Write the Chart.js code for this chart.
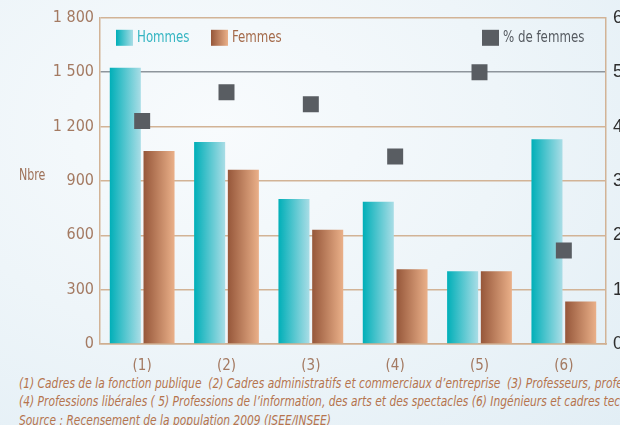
<!DOCTYPE html>
<html>
<head>
<meta charset="utf-8">
<script src="https://cdn.jsdelivr.net/npm/chart.js@4"></script>
<style>
  html, body { margin: 0; padding: 0; }
  body {
    width: 620px; height: 425px; overflow: hidden; position: relative;
    background: radial-gradient(ellipse at 35% 30%, #f8fbfd 0%, #eef5f9 50%, #e2eef5 100%);
    font-family: "DejaVu Sans Condensed", sans-serif;
  }
  #wrap { position: absolute; left: 0; top: 0; width: 650px; height: 372px; }
  #nbre { position: absolute; left: 19px; top: 166px; font-size: 15px; color: #9f735b; transform-origin: left top; transform: scaleX(0.82); }
  .note {
    position: absolute; left: 19px; white-space: nowrap; font-style: italic;
    font-size: 14px; color: #b5744e; transform-origin: left top; transform: scaleX(0.85);
  }
</style>
</head>
<body>
<div id="wrap"><canvas id="chart"></canvas></div>
<div id="nbre">Nbre</div>
<div class="note" style="top:375px">(1) Cadres de la fonction publique&nbsp; (2) Cadres administratifs et commerciaux d’entreprise&nbsp; (3) Professeurs, professions scientifiques</div>
<div class="note" style="top:393px">(4) Professions libérales ( 5) Professions de l’information, des arts et des spectacles (6) Ingénieurs et cadres techniques d’entreprise</div>
<div class="note" style="top:412px">Source : Recensement de la population 2009 (ISEE/INSEE)</div>
<script>
const categories = ["(1)", "(2)", "(3)", "(4)", "(5)", "(6)"];
const hommes = [1525, 1115, 800, 785, 402, 1130];
const femmes = [1065, 962, 630, 413, 402, 234];
const pctFemmes = [41, 46.3, 44.1, 34.5, 50, 17.2];

const brown = "#a47a62";
const condensed = "'DejaVu Sans Condensed', sans-serif";

// dégradé horizontal sur chaque barre
const barGradient = {
  id: "barGradient",
  beforeDatasetsDraw(chart) {
    const ctx = chart.ctx;
    const stops = [["#00afb8", "#a9dde6"], ["#96573a", "#eab089"]];
    [0, 1].forEach(function(d) {
      chart.getDatasetMeta(d).data.forEach(function(bar) {
        const x0 = bar.x - bar.width / 2;
        const g = ctx.createLinearGradient(x0, 0, x0 + bar.width, 0);
        g.addColorStop(0, stops[d][0]);
        g.addColorStop(1, stops[d][1]);
        bar.options = Object.assign({}, bar.options, { backgroundColor: g });
      });
    });
  }
};

// légende dans la zone du graphique
const innerLegend = {
  id: "innerLegend",
  afterDraw(chart) {
    const ctx = chart.ctx;
    const a = chart.chartArea;
    ctx.save();
    ctx.font = "16px " + condensed;
    ctx.textBaseline = "middle";
    function swatch(x, c1, c2, label, color) {
      const g = ctx.createLinearGradient(x, 0, x + 17, 0);
      g.addColorStop(0, c1);
      g.addColorStop(1, c2);
      ctx.fillStyle = g;
      ctx.fillRect(x, a.top + 12, 17, 16);
      ctx.fillStyle = color;
      ctx.save();
      ctx.translate(x + 21, a.top + 20);
      ctx.scale(0.82, 1);
      ctx.fillText(label, 0, 0);
      ctx.restore();
    }
    swatch(a.left + 16, "#00afb8", "#a9dde6", "Hommes", "#35b5c2");
    swatch(a.left + 111, "#96573a", "#eab089", "Femmes", "#a46a4a");
    swatch(a.left + 382, "#595d62", "#595d62", "% de femmes", "#555a60");
    ctx.restore();
  }
};

new Chart(document.getElementById("chart"), {
  data: {
    labels: categories,
    datasets: [{
      type: "bar",
      label: "Hommes",
      data: hommes,
      yAxisID: "y",
      order: 2,
      categoryPercentage: 0.8,
      barPercentage: 0.92,
      backgroundColor: "#3cbcc6"
    }, {
      type: "bar",
      label: "Femmes",
      data: femmes,
      yAxisID: "y",
      order: 2,
      categoryPercentage: 0.8,
      barPercentage: 0.92,
      backgroundColor: "#c08660"
    }, {
      type: "line",
      label: "% de femmes",
      data: pctFemmes,
      yAxisID: "y1",
      order: 0,
      showLine: false,
      pointStyle: "rect",
      pointRadius: 11.3,
      pointBorderWidth: 0,
      pointBackgroundColor: "#595d62"
    }]
  },
  options: {
    responsive: true,
    maintainAspectRatio: false,
    animation: false,
    layout: { padding: { top: 13, left: 0, right: 0, bottom: 0 } },
    plugins: {
      legend: { display: false },
      tooltip: { enabled: false }
    },
    scales: {
      x: {
        grid: { display: false },
        border: { color: "#cfae90", width: 1.5 },
        ticks: {
          color: brown,
          padding: 5,
          font: { family: condensed, size: 15 }
        },
        afterFit: function(s) { s.height = 28; }
      },
      y: {
        position: "left",
        min: 0,
        max: 1800,
        ticks: {
          stepSize: 300,
          color: brown,
          padding: 6,
          font: { family: condensed, size: 16 },
          callback: function(v) { return v >= 1000 ? Math.floor(v / 1000) + " " + String(v % 1000).padStart(3, "0") : v; }
        },
        grid: {
          drawTicks: false,
          lineWidth: 1.5,
          color: function(c) { return c.tick && c.tick.value === 1500 ? "#8e959c" : "#d2b396"; }
        },
        border: { color: "#d2b396", width: 1.5 },
        afterFit: function(s) { s.width = 100; }
      },
      y1: {
        position: "right",
        min: 0,
        max: 60,
        ticks: {
          stepSize: 10,
          color: "#2e2e2e",
          padding: 7,
          font: { family: "'Liberation Sans', sans-serif", size: 18 }
        },
        grid: { drawOnChartArea: false, drawTicks: false },
        border: { color: "#d2b396", width: 1.5 },
        afterFit: function(s) { s.width = 44; }
      }
    }
  },
  plugins: [barGradient, innerLegend]
});
</script>
</body>
</html>
